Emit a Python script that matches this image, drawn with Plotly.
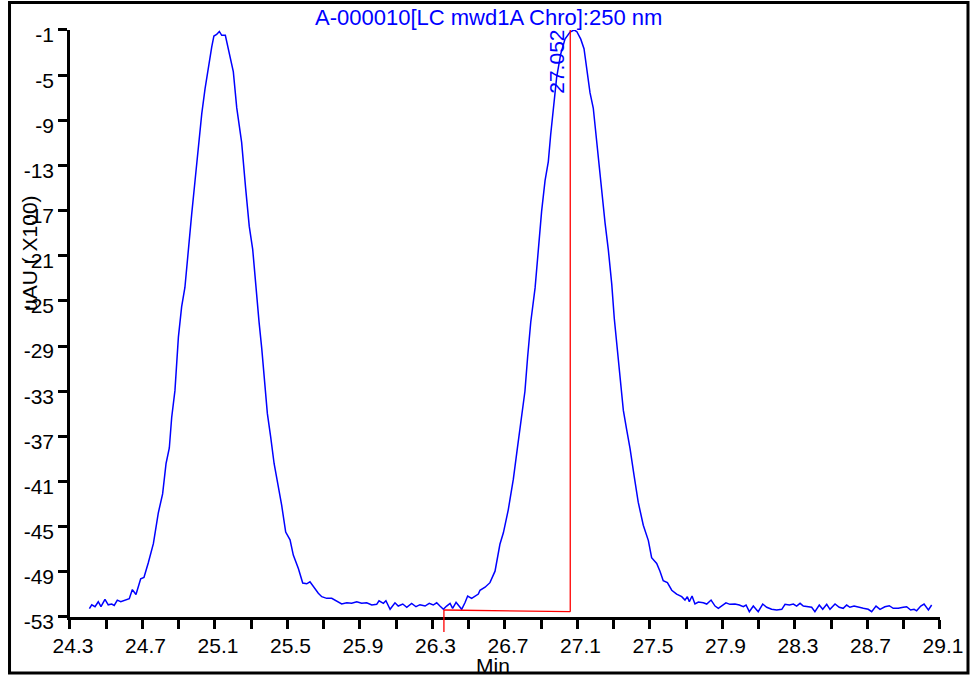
import plotly.graph_objects as go

# Retention time (min) and signal (uAU x100)
time_min = [
    24.407, 24.420, 24.438, 24.456, 24.471, 24.493, 24.511, 24.530, 24.544, 24.561,
    24.580, 24.603, 24.627, 24.644, 24.664, 24.690, 24.708, 24.732, 24.760, 24.787,
    24.811, 24.830, 24.848, 24.861, 24.879, 24.898, 24.916, 24.934, 24.953, 24.971,
    24.990, 25.008, 25.027, 25.045, 25.063, 25.082, 25.094, 25.109, 25.124, 25.137,
    25.157, 25.179, 25.201, 25.220, 25.247, 25.269, 25.289, 25.308, 25.325, 25.343,
    25.358, 25.372, 25.389, 25.407, 25.426, 25.449, 25.468, 25.490, 25.514, 25.532,
    25.560, 25.584, 25.606, 25.624, 25.646, 25.670, 25.689, 25.716, 25.744, 25.771,
    25.799, 25.827, 25.854, 25.882, 25.909, 25.937, 25.965, 25.992, 26.005, 26.029,
    26.043, 26.066, 26.093, 26.111, 26.136, 26.158, 26.185, 26.209, 26.231, 26.259,
    26.282, 26.304, 26.323, 26.341, 26.360, 26.378, 26.397, 26.411, 26.430, 26.442,
    26.461, 26.479, 26.494, 26.516, 26.534, 26.553, 26.562, 26.590, 26.617, 26.645,
    26.672, 26.691, 26.718, 26.746, 26.768, 26.787, 26.810, 26.825, 26.842, 26.866,
    26.884, 26.902, 26.921, 26.939, 26.952, 26.970, 26.985, 27.007, 27.031, 27.059,
    27.081, 27.096, 27.118, 27.136, 27.151, 27.169, 27.187, 27.202, 27.215, 27.233,
    27.252, 27.270, 27.289, 27.303, 27.320, 27.338, 27.353, 27.371, 27.390, 27.412,
    27.435, 27.463, 27.491, 27.509, 27.537, 27.555, 27.573, 27.596, 27.620, 27.647,
    27.675, 27.693, 27.706, 27.717, 27.732, 27.748, 27.767, 27.794, 27.813, 27.837,
    27.859, 27.877, 27.896, 27.919, 27.941, 27.969, 27.993, 28.015, 28.030, 28.048,
    28.070, 28.097, 28.122, 28.144, 28.171, 28.199, 28.227, 28.245, 28.269, 28.291,
    28.309, 28.328, 28.346, 28.368, 28.392, 28.410, 28.434, 28.453, 28.475, 28.493,
    28.521, 28.544, 28.566, 28.585, 28.603, 28.626, 28.649, 28.677, 28.704, 28.723,
    28.747, 28.769, 28.796, 28.820, 28.842, 28.870, 28.897, 28.916, 28.938, 28.957,
    28.971, 28.994, 29.012, 29.036, 29.054,
]
signal = [
    -52.26, -51.92, -52.09, -51.65, -52.09, -51.44, -51.92, -51.85, -51.98, -51.51,
    -51.65, -51.51, -51.38, -50.57, -51.01, -49.62, -49.49, -48.19, -46.50, -43.79,
    -42.10, -39.40, -38.03, -35.33, -32.95, -28.21, -25.51, -23.81, -20.09, -17.38,
    -14.33, -11.29, -8.41, -6.21, -4.18, -2.49, -1.53, -1.40, -1.13, -1.47,
    -1.47, -3.16, -4.69, -7.90, -10.95, -15.01, -18.40, -20.43, -23.81, -26.86,
    -29.23, -31.60, -34.99, -37.02, -39.40, -41.42, -43.12, -45.48, -46.16, -47.52,
    -48.71, -49.99, -50.06, -49.88, -50.40, -50.90, -51.20, -51.35, -51.35, -51.56,
    -51.85, -51.74, -51.79, -51.65, -51.79, -51.74, -51.94, -51.88, -51.56, -51.79,
    -51.56, -52.32, -51.74, -52.03, -51.85, -52.14, -51.79, -52.09, -51.91, -52.03,
    -51.79, -51.94, -51.74, -52.03, -52.32, -52.03, -51.79, -52.23, -51.70, -51.94,
    -52.32, -51.74, -51.14, -51.35, -51.20, -50.97, -50.63, -50.36, -49.96, -48.94,
    -46.56, -45.54, -43.51, -40.79, -38.08, -35.71, -33.00, -29.95, -26.89, -23.85,
    -20.45, -17.07, -14.35, -12.66, -10.28, -7.57, -5.20, -3.16, -1.81, -1.19,
    -1.00, -1.13, -1.81, -2.66, -4.53, -6.55, -7.91, -10.28, -12.66, -15.37,
    -18.08, -20.45, -23.51, -26.56, -29.27, -31.98, -34.70, -36.39, -38.08, -40.46,
    -42.83, -44.87, -46.23, -47.75, -48.25, -48.94, -49.79, -49.96, -50.63, -50.97,
    -51.20, -51.50, -51.20, -51.65, -51.14, -51.85, -51.67, -51.74, -51.85, -51.50,
    -52.03, -52.23, -52.03, -51.74, -51.88, -51.85, -51.94, -52.09, -51.94, -52.53,
    -52.03, -52.53, -51.85, -52.14, -52.32, -52.38, -52.32, -51.88, -51.94, -51.85,
    -52.03, -51.79, -52.03, -52.09, -52.14, -52.53, -51.94, -52.32, -51.88, -52.32,
    -51.85, -52.14, -52.23, -51.94, -52.14, -52.03, -52.14, -52.23, -52.32, -52.53,
    -52.03, -52.32, -52.09, -52.00, -52.23, -52.23, -52.14, -52.09, -52.38, -52.32,
    -52.45, -52.03, -51.85, -52.38, -51.94,
]

# Integration marks for the labelled peak
peak_label = "27.052"
peak_rt = 27.06
peak_top = -1.0
baseline_start_t = 26.363
baseline_start_y = -52.38
baseline_end_y = -52.53

# Axes
x_range = [24.3, 29.1]
y_range = [-53, -1]
x_tick_vals = [24.3, 24.5, 24.7, 24.9, 25.1, 25.3, 25.5, 25.7, 25.9, 26.1, 26.3, 26.5,
               26.7, 26.9, 27.1, 27.3, 27.5, 27.7, 27.9, 28.1, 28.3, 28.5, 28.7, 28.9, 29.1]
x_tick_text = ["24.3", "", "24.7", "", "25.1", "", "25.5", "", "25.9", "", "26.3", "",
               "26.7", "", "27.1", "", "27.5", "", "27.9", "", "28.3", "", "28.7", "", "29.1"]
y_tick_vals = [-1, -5, -9, -13, -17, -21, -25, -29, -33, -37, -41, -45, -49, -53]
y_tick_text = ["-1", "-5", "-9", "-13", "-17", "-21", "-25", "-29", "-33", "-37", "-41",
               "-45", "-49", "-53"]

chart_title = "A-000010[LC mwd1A Chro]:250 nm"
y_title = "uAU ( X100)"
x_title = "Min"

FONT = "Liberation Sans, Arial, sans-serif"
BLUE = "#0000ff"
RED = "#ff0000"

fig = go.Figure()
fig.add_trace(go.Scatter(x=time_min, y=signal, mode="lines",
                         line=dict(color=BLUE, width=1.5), showlegend=False,
                         hoverinfo="x+y"))

red = dict(color=RED, width=1.3)
fig.add_shape(type="line", xref="x", yref="y", x0=baseline_start_t, y0=baseline_start_y,
              x1=peak_rt, y1=baseline_end_y, line=red)
fig.add_shape(type="line", xref="x", yref="y", x0=peak_rt, y0=baseline_end_y,
              x1=peak_rt, y1=peak_top, line=red)
# drop tick at the start of the integration baseline (reaches below the axis line)
fig.add_shape(type="line", xref="x", yref="paper", x0=baseline_start_t,
              x1=baseline_start_t, y0=0.0637, y1=0.0963, line=red)

# outer frame
fig.add_shape(type="rect", xref="paper", yref="paper", x0=0.0098, x1=0.9969,
              y0=0.0030, y1=0.9963, line=dict(color="black", width=3), layer="above")

fig.add_annotation(text=peak_label, x=peak_rt, y=peak_top, xref="x", yref="y",
                   textangle=-90, xanchor="right", yanchor="top", showarrow=False,
                   font=dict(family=FONT, size=21, color=BLUE), xshift=0, yshift=2)
fig.add_annotation(text=chart_title, x=0.5036, y=0.9748, xref="paper", yref="paper",
                   xanchor="center", yanchor="middle", showarrow=False,
                   font=dict(family=FONT, size=22, color=BLUE))
fig.add_annotation(text=y_title, x=0.0309, y=0.6252, xref="paper", yref="paper",
                   textangle=-90, xanchor="center", yanchor="middle", showarrow=False,
                   font=dict(family=FONT, size=21, color="black"))
fig.add_annotation(text=x_title, x=0.5082, y=0.0148, xref="paper", yref="paper",
                   xanchor="center", yanchor="middle", showarrow=False,
                   font=dict(family=FONT, size=21, color="black"))

axis_common = dict(showgrid=False, zeroline=False, showline=True, linecolor="black",
                   linewidth=2.5, ticks="outside", tickcolor="black", tickwidth=2.5,
                   ticklen=9, tickfont=dict(family=FONT, size=21, color="black"),
                   mirror=False, automargin=False)
fig.update_xaxes(range=x_range, tickmode="array", tickvals=x_tick_vals,
                 ticktext=x_tick_text, domain=[0.07209, 0.96807],
                 ticklabelshift=3, ticklabelstandoff=-1, **axis_common)
fig.update_yaxes(range=y_range, tickmode="array", tickvals=y_tick_vals,
                 ticktext=y_tick_text, domain=[0.08593, 0.95556],
                 ticklabelshift=5, ticklabelstandoff=0, **axis_common)

fig.update_layout(width=971, height=675, margin=dict(l=0, r=0, t=0, b=0, pad=0),
                  paper_bgcolor="white", plot_bgcolor="white",
                  font=dict(family=FONT, size=21, color="black"))

fig.write_html("out.html", config={"displayModeBar": False},
               post_script="document.body.style.margin='0';"
                           "document.body.style.overflow='hidden';")
